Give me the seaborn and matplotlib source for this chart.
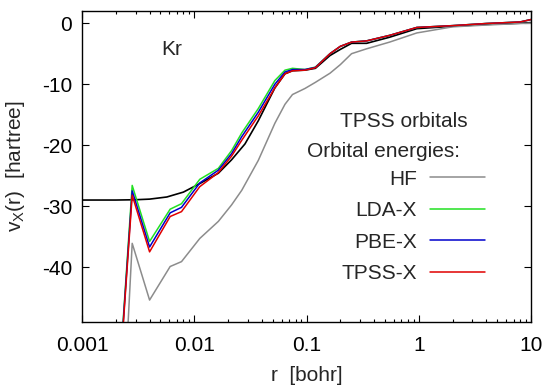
import numpy as np
import pandas as pd
import matplotlib
matplotlib.use("Agg")
import matplotlib.pyplot as plt
import seaborn as sns

# exact exchange potential (black, not in legend)
r_exact = [0.001, 0.002, 0.003, 0.004, 0.0057, 0.008, 0.0112, 0.0164, 0.0215, 0.0283,
           0.0372, 0.0523, 0.0643, 0.075, 0.097, 0.12, 0.162, 0.2, 0.252, 0.343,
           0.55, 0.96, 2.0, 4.0, 8.0, 10.0]
v_exact = [-29.0, -29.0, -28.95, -28.85, -28.5, -27.7, -26.3, -24.6, -22.4, -19.8,
           -16.0, -10.6, -8.3, -7.8, -7.7, -7.4, -5.3, -4.3, -3.3, -3.3,
           -2.3, -0.9, -0.5, -0.2, 0.0, 0.1]

# orbital-energy based potentials
r_orb = [0.0021, 0.0024, 0.0028, 0.004, 0.0061, 0.0077, 0.0112, 0.0164, 0.0215, 0.0265,
         0.0372, 0.0523, 0.0643, 0.075, 0.097, 0.12, 0.162, 0.2, 0.252, 0.343,
         0.55, 0.96, 2.0, 4.0, 8.0, 10.0]
v_hf = [-80.0, -60.0, -36.1, -45.4, -39.9, -39.1, -35.3, -32.5, -29.8, -27.4,
        -22.5, -16.4, -13.3, -11.7, -10.7, -9.7, -8.2, -6.8, -5.0, -4.2,
        -3.1, -1.6, -0.6, -0.3, -0.05, 0.0]
v_lda = [-61.0, -45.0, -26.6, -35.8, -30.5, -29.6, -25.6, -23.8, -20.9, -18.0,
         -14.0, -9.4, -7.7, -7.4, -7.6, -7.2, -5.0, -3.8, -3.1, -2.9,
         -2.0, -0.7, -0.4, -0.05, 0.2, 0.6]
v_pbe = [-61.5, -45.5, -27.5, -36.7, -31.1, -30.2, -26.2, -24.1, -21.4, -18.6,
         -14.6, -10.0, -8.0, -7.6, -7.6, -7.25, -5.0, -3.8, -3.1, -2.9,
         -2.0, -0.7, -0.4, -0.05, 0.2, 0.6]
v_tpss = [-62.0, -46.0, -28.2, -37.5, -31.7, -30.9, -26.8, -24.5, -21.8, -19.2,
          -15.2, -10.6, -8.3, -7.8, -7.7, -7.3, -5.0, -3.8, -3.1, -2.9,
          -2.0, -0.7, -0.4, -0.05, 0.2, 0.6]

labels = ["HF", "LDA-X", "PBE-X", "TPSS-X"]
colors = ["#8c8c8c", "#22e022", "#0000cc", "#e00000"]

x_ticks = [0.001, 0.01, 0.1, 1, 10]
x_ticklabels = ["0.001", "0.01", "0.1", "1", "10"]
y_ticks = [0, -10, -20, -30, -40]

sns.set_style("ticks")
plt.rcParams.update({
    "font.family": ["Liberation Sans", "DejaVu Sans"],
    "font.size": 15,
    "axes.unicode_minus": False,
    "axes.linewidth": 1.0,
    "axes.edgecolor": "black",
})

fig, ax = plt.subplots(figsize=(5.46, 3.86), dpi=100)
fig.subplots_adjust(left=82 / 546, right=531 / 546, top=1 - 11 / 386, bottom=1 - 322 / 386)

df_exact = pd.DataFrame({"r": r_exact, "v": v_exact})
sns.lineplot(data=df_exact, x="r", y="v", color="black", linewidth=1.2, ax=ax, sort=False)

orb = pd.DataFrame({"r": r_orb * 4,
                    "v": v_hf + v_lda + v_pbe + v_tpss,
                    "method": sum([[m] * len(r_orb) for m in labels], [])})
sns.lineplot(data=orb, x="r", y="v", hue="method", hue_order=labels,
             palette=colors, linewidth=1.1, ax=ax, sort=False)

ax.set_xscale("log")
ax.set_xlim(0.001, 10)
ax.set_ylim(-49, 2)
ax.set_xticks(x_ticks, x_ticklabels)
ax.set_yticks(y_ticks, [str(t) for t in y_ticks])
ax.tick_params(which="both", direction="in", top=True, right=True, colors="black",
               labelsize=15)
ax.tick_params(axis="y", pad=7)
ax.tick_params(axis="x", pad=10)
ax.tick_params(which="major", length=5, width=0.8)
ax.tick_params(which="minor", length=2.5, width=0.8)

ax.set_xlabel("r  [bohr]", fontsize=15, labelpad=8)
ax.set_ylabel(r"v$_\mathregular{X}$(r)  [hartree]", fontsize=15, labelpad=11)

ax.text(0.2, 0.875, "Kr", transform=ax.transAxes, ha="center", va="center", fontsize=15)
ax.text(0.717, 0.645, "TPSS orbitals", transform=ax.transAxes, ha="center", va="center", fontsize=15)
ax.text(0.501, 0.547, "Orbital energies:", transform=ax.transAxes, ha="left", va="center", fontsize=15)

handles, lbls = ax.get_legend_handles_labels()
ax.legend(handles, lbls, loc="upper right", bbox_to_anchor=(0.898, 0.49), frameon=False,
          markerfirst=False, fontsize=15, handlelength=2.65, handletextpad=0.62,
          labelspacing=0.6, borderpad=0, borderaxespad=0)

plt.savefig("out.png", dpi=100)
